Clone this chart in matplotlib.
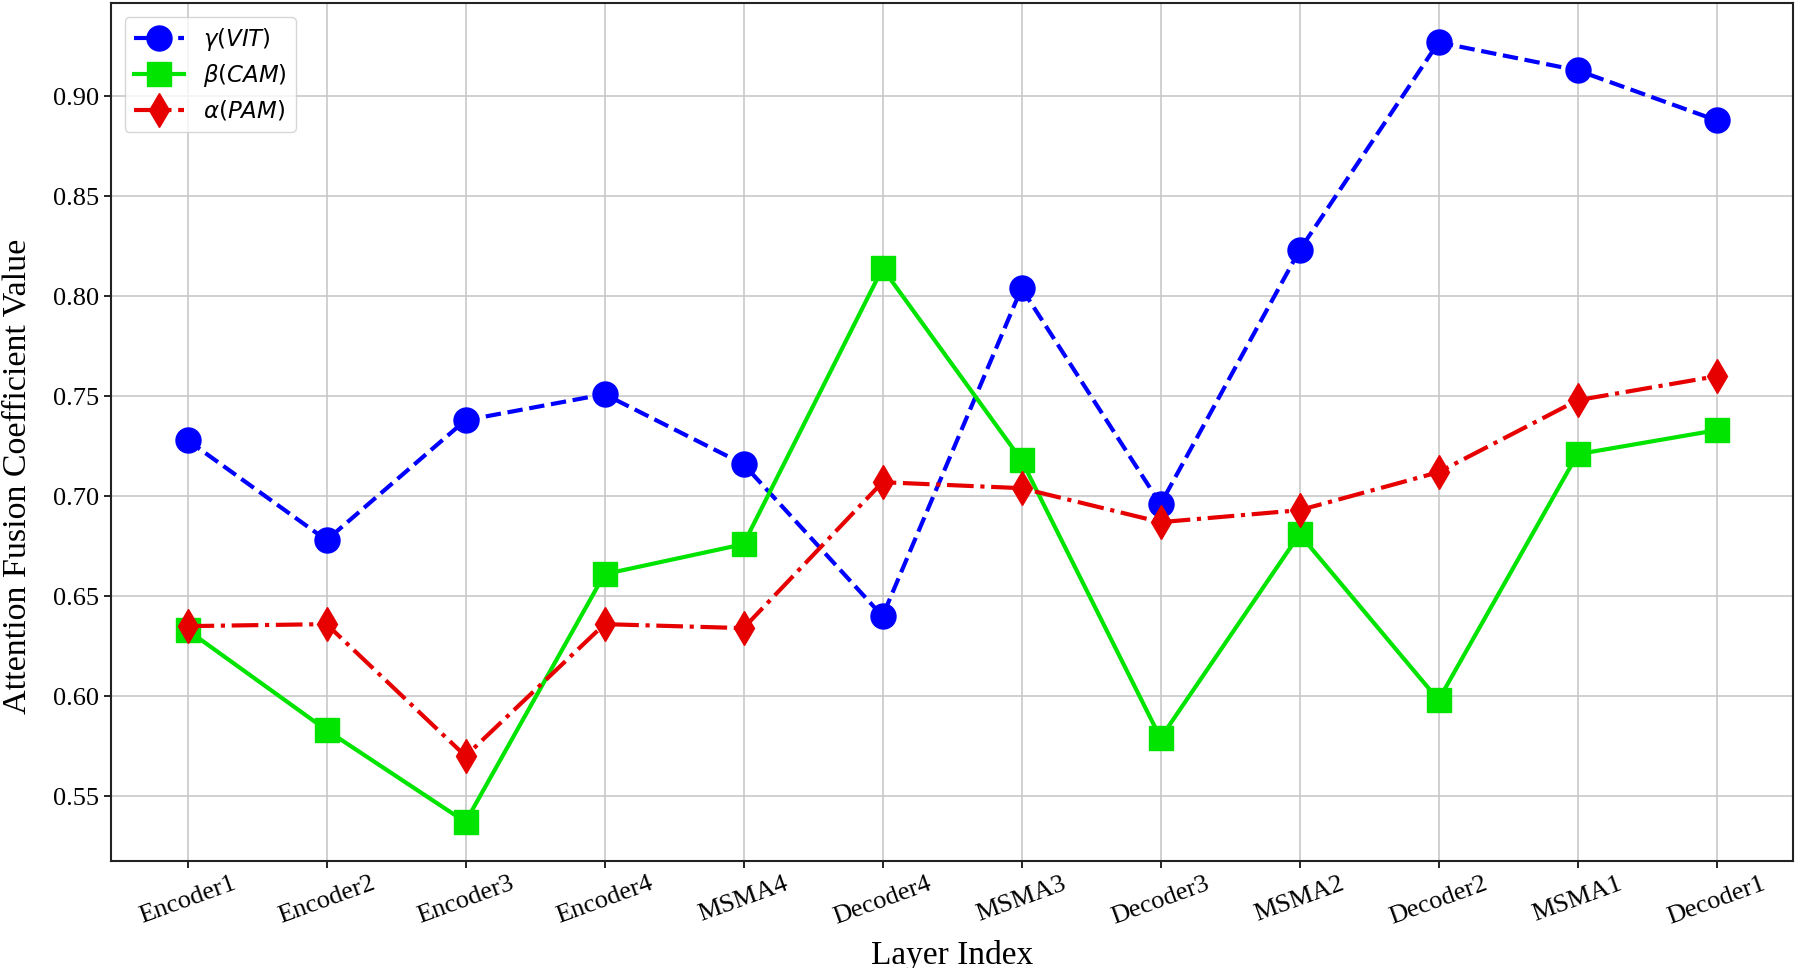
import matplotlib
matplotlib.use("Agg")
import matplotlib.pyplot as plt

layers = ["Encoder1", "Encoder2", "Encoder3", "Encoder4", "MSMA4", "Decoder4",
          "MSMA3", "Decoder3", "MSMA2", "Decoder2", "MSMA1", "Decoder1"]
gamma_vit = [0.728, 0.678, 0.738, 0.751, 0.716, 0.640, 0.804, 0.696, 0.823, 0.927, 0.913, 0.888]
beta_cam = [0.633, 0.583, 0.537, 0.661, 0.676, 0.814, 0.718, 0.579, 0.681, 0.598, 0.721, 0.733]
alpha_pam = [0.635, 0.636, 0.570, 0.636, 0.634, 0.707, 0.704, 0.687, 0.693, 0.712, 0.748, 0.760]
series_labels = [r"$\gamma(VIT)$", r"$\beta(CAM)$", r"$\alpha(PAM)$"]
yticks = [0.55, 0.60, 0.65, 0.70, 0.75, 0.80, 0.85, 0.90]

fig = plt.figure(figsize=(18, 9.68), dpi=100)
ax = fig.add_axes([0.0617, 0.1105, 0.9344, 0.886])

x = list(range(len(layers)))
ax.plot(x, gamma_vit, color="#0000ff", linestyle="--", linewidth=3, marker="o",
        markersize=18, label=series_labels[0], zorder=3)
ax.plot(x, beta_cam, color="#00e400", linestyle="-", linewidth=3, marker="s",
        markersize=17, label=series_labels[1], zorder=3)
ax.plot(x, alpha_pam, color="#e60000", linestyle="-.", linewidth=3, marker="d",
        markersize=17, label=series_labels[2], zorder=4)

ax.set_xticks(x)
ax.set_xticklabels(layers, rotation=20, fontfamily="Liberation Serif", fontsize=19)
ax.set_yticks(yticks)
ax.set_yticklabels([f"{v:.2f}" for v in yticks], fontfamily="Liberation Serif", fontsize=19)
ax.tick_params(axis="both", length=5, width=1.2)

ax.set_xlabel("Layer Index", fontfamily="Liberation Serif", fontsize=24, labelpad=8)
ax.set_ylabel("Attention Fusion Coefficient Value", fontfamily="Liberation Serif",
              fontsize=24.5)
ax.yaxis.set_label_coords(-0.047, 0.448)

ax.grid(True, color="#c8c8c8", linewidth=1.2)
ax.set_axisbelow(True)
for s in ax.spines.values():
    s.set_linewidth(1.5)
    s.set_color("#222222")

leg = ax.legend(loc="upper left", fontsize=16.5, borderaxespad=0.6, handlelength=2.2,
                labelspacing=0.4, framealpha=0.8)

fig.savefig("out.png", dpi=100)
